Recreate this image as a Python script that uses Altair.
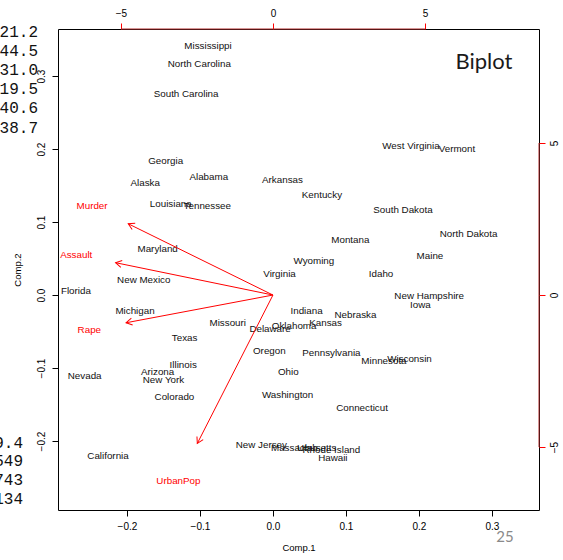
import altair as alt
import pandas as pd

# Principal component scores (Comp.1, Comp.2) for each state
states = [
    "Mississippi", "North Carolina", "South Carolina", "Georgia", "Alaska",
    "Alabama", "Louisiana", "Tennessee", "Arkansas", "Kentucky",
    "West Virginia", "Vermont", "South Dakota", "North Dakota", "Montana",
    "Wyoming", "Maine", "Virginia", "Idaho", "New Hampshire", "Iowa",
    "Maryland", "New Mexico", "Florida", "Michigan", "Missouri", "Delaware",
    "Oklahoma", "Kansas", "Indiana", "Nebraska", "Texas", "Oregon",
    "Pennsylvania", "Minnesota", "Wisconsin", "Ohio", "Washington",
    "Connecticut", "New Jersey", "Massachusetts", "Utah", "Rhode Island",
    "Hawaii", "Nevada", "Illinois", "Arizona", "New York", "Colorado",
    "California",
]
comp1 = [
    -0.089, -0.101, -0.119, -0.147, -0.175,
    -0.088, -0.140, -0.090, 0.013, 0.067,
    0.189, 0.252, 0.178, 0.268, 0.106,
    0.056, 0.215, 0.009, 0.148, 0.214, 0.202,
    -0.158, -0.177, -0.270, -0.189, -0.062, -0.004,
    0.029, 0.072, 0.046, 0.113, -0.121, -0.005,
    0.080, 0.152, 0.187, 0.021, 0.020,
    0.122, -0.016, 0.042, 0.047, 0.080,
    0.082, -0.258, -0.123, -0.158, -0.150, -0.135,
    -0.226,
]
comp2 = [
    0.341, 0.316, 0.275, 0.183, 0.153,
    0.161, 0.124, 0.122, 0.158, 0.137,
    0.204, 0.200, 0.117, 0.084, 0.076,
    0.047, 0.053, 0.029, 0.029, -0.002, -0.014,
    0.063, 0.020, 0.005, -0.022, -0.038, -0.046,
    -0.042, -0.039, -0.022, -0.028, -0.059, -0.077,
    -0.080, -0.090, -0.087, -0.106, -0.137,
    -0.155, -0.205, -0.209, -0.210, -0.212,
    -0.223, -0.111, -0.096, -0.106, -0.117, -0.140,
    -0.220,
]

# Variable loadings (label positions); arrows reach 80% of the way
variables = ["Murder", "Assault", "UrbanPop", "Rape"]
load1 = [-5.95, -6.47, -3.11, -6.04]
load2 = [2.93, 1.33, -6.10, -1.14]

score_ticks = [-0.2, -0.1, 0.0, 0.1, 0.2, 0.3]
loading_ticks = [-5, 0, 5]

# Slide furniture around the plot
left_column_top = ["21.2", "44.5", "31.0", "19.5", "40.6", "38.7"]
left_column_bottom = ["9.4", "549", "743", "134"]
slide_title = "Biplot"
page_number = "25"

scores = pd.DataFrame({"state": states, "comp1": comp1, "comp2": comp2})
loadings = pd.DataFrame({"var": variables, "l1": load1, "l2": load2})
span = pd.DataFrame({"lo": [min(loading_ticks)], "hi": [max(loading_ticks)]})

FONT = "Liberation Sans"
RED = "#ff0000"
AXIS_RED = "#b02a2a"
W = H = 481

score_domain = [-0.2945, 0.3644]
loading_domain = [-7.07, 8.75]

xs = alt.Scale(domain=score_domain, nice=False, zero=False)
ys = alt.Scale(domain=score_domain, nice=False, zero=False)
x2s = alt.Scale(domain=loading_domain, nice=False, zero=False)
y2s = alt.Scale(domain=loading_domain, nice=False, zero=False)

common_axis = dict(
    domain=False, grid=False, tickSize=6, tickWidth=1,
    labelFont=FONT, labelFontSize=10, labelColor="black",
    labelFlush=False, labelOverlap=False,
)

xa = alt.Axis(
    values=score_ticks, format=".1f", orient="bottom", tickColor="black",
    labelPadding=5, title="Comp.1", titleFont=FONT, titleFontSize=9.5,
    titleFontWeight="normal", titleColor="black", titleY=37,
    titleBaseline="middle", **common_axis,
)
ya = alt.Axis(
    values=score_ticks, format=".1f", orient="left", tickColor="black",
    labelAngle=270, labelAlign="center", labelBaseline="bottom",
    labelPadding=6, title="Comp.2", titleFont=FONT, titleFontSize=9.5,
    titleFontWeight="normal", titleColor="black", titleAngle=270,
    titleX=-41, titleY=H / 2, titleAlign="center", titleBaseline="middle",
    **common_axis,
)
xa2 = alt.Axis(
    values=loading_ticks, format="d", orient="top", tickColor=RED,
    labelPadding=5, title=None, **common_axis,
)
ya2 = alt.Axis(
    values=loading_ticks, format="d", orient="right", tickColor=RED,
    labelAngle=270, labelAlign="center", labelBaseline="top",
    labelPadding=4, title=None, **common_axis,
)

# State names at their scores
score_layer = alt.Chart(scores).mark_text(
    font=FONT, fontSize=9.8, color="#111111", baseline="middle", align="center"
).encode(
    x=alt.X("comp1:Q", scale=xs, axis=xa),
    y=alt.Y("comp2:Q", scale=ys, axis=ya),
    text="state:N",
)

# Loading arrows: shaft, open arrowhead, and variable name
ARROW_HEAD = "M -0.5 0.866 L 0 0 L 0.5 0.866"
arrow_base = alt.Chart(loadings).transform_calculate(
    tip1="0.8 * datum.l1",
    tip2="0.8 * datum.l2",
    origin="0",
    heading="(atan2(datum.l1, datum.l2) * 180 / PI + 360) % 360",
)
shafts = arrow_base.mark_rule(color=RED, strokeWidth=1).encode(
    x=alt.X("origin:Q", scale=x2s, axis=xa2),
    y=alt.Y("origin:Q", scale=y2s, axis=ya2),
    x2="tip1:Q",
    y2="tip2:Q",
)
heads = arrow_base.mark_point(
    shape=ARROW_HEAD, size=196, filled=False, color=RED,
    strokeWidth=1, opacity=1,
).encode(
    x=alt.X("tip1:Q", scale=x2s, axis=xa2),
    y=alt.Y("tip2:Q", scale=y2s, axis=ya2),
    angle=alt.Angle("heading:Q", scale=None),
)
var_names = alt.Chart(loadings).mark_text(
    font=FONT, fontSize=9.8, color=RED, baseline="middle", align="center"
).encode(
    x=alt.X("l1:Q", scale=x2s, axis=xa2),
    y=alt.Y("l2:Q", scale=y2s, axis=ya2),
    text="var:N",
)
top_line = alt.Chart(span).mark_rule(color=AXIS_RED, strokeWidth=1).encode(
    x=alt.X("lo:Q", scale=x2s, axis=xa2), x2="hi:Q", y=alt.value(0)
)
right_line = alt.Chart(span).mark_rule(color=AXIS_RED, strokeWidth=1).encode(
    y=alt.Y("lo:Q", scale=y2s, axis=ya2), y2="hi:Q", x=alt.value(W)
)
loading_layer = alt.layer(top_line, right_line, shafts, heads, var_names)

# Slide text around the figure
col_top = alt.Chart(pd.DataFrame({"t": ["\n".join(left_column_top)]})).mark_text(
    font="Liberation Mono", fontSize=16, color="#111111", align="right",
    baseline="top", lineBreak="\n", lineHeight=19.2,
).encode(text="t:N", x=alt.value(-20), y=alt.value(-5.5))
col_bottom = alt.Chart(pd.DataFrame({"t": ["\n".join(left_column_bottom)]})).mark_text(
    font="Liberation Mono", fontSize=16, color="#111111", align="right",
    baseline="top", lineBreak="\n", lineHeight=18.8,
).encode(text="t:N", x=alt.value(-35), y=alt.value(405.5))
title_text = alt.Chart(pd.DataFrame({"t": [slide_title]})).mark_text(
    font="Lato", fontSize=22, color="#1a1a1a", align="center", baseline="middle",
).encode(text="t:N", x=alt.value(426), y=alt.value(33))
page_text = alt.Chart(pd.DataFrame({"t": [page_number]})).mark_text(
    font="Lato", fontSize=15, color="#8a8a8a", align="center", baseline="middle",
).encode(text="t:N", x=alt.value(447), y=alt.value(508))
notes = alt.layer(col_top, col_bottom, title_text, page_text)

chart = (
    alt.layer(score_layer, loading_layer, notes)
    .resolve_scale(x="independent", y="independent")
    .properties(
        width=W,
        height=H,
        padding={"left": 58, "top": 29, "right": 24, "bottom": 50},
        autosize=alt.AutoSizeParams(type="none"),
        background="white",
    )
    .configure_view(stroke="black", strokeWidth=1)
)

chart.save("out.html", embed_options={"renderer": "svg", "actions": False})
